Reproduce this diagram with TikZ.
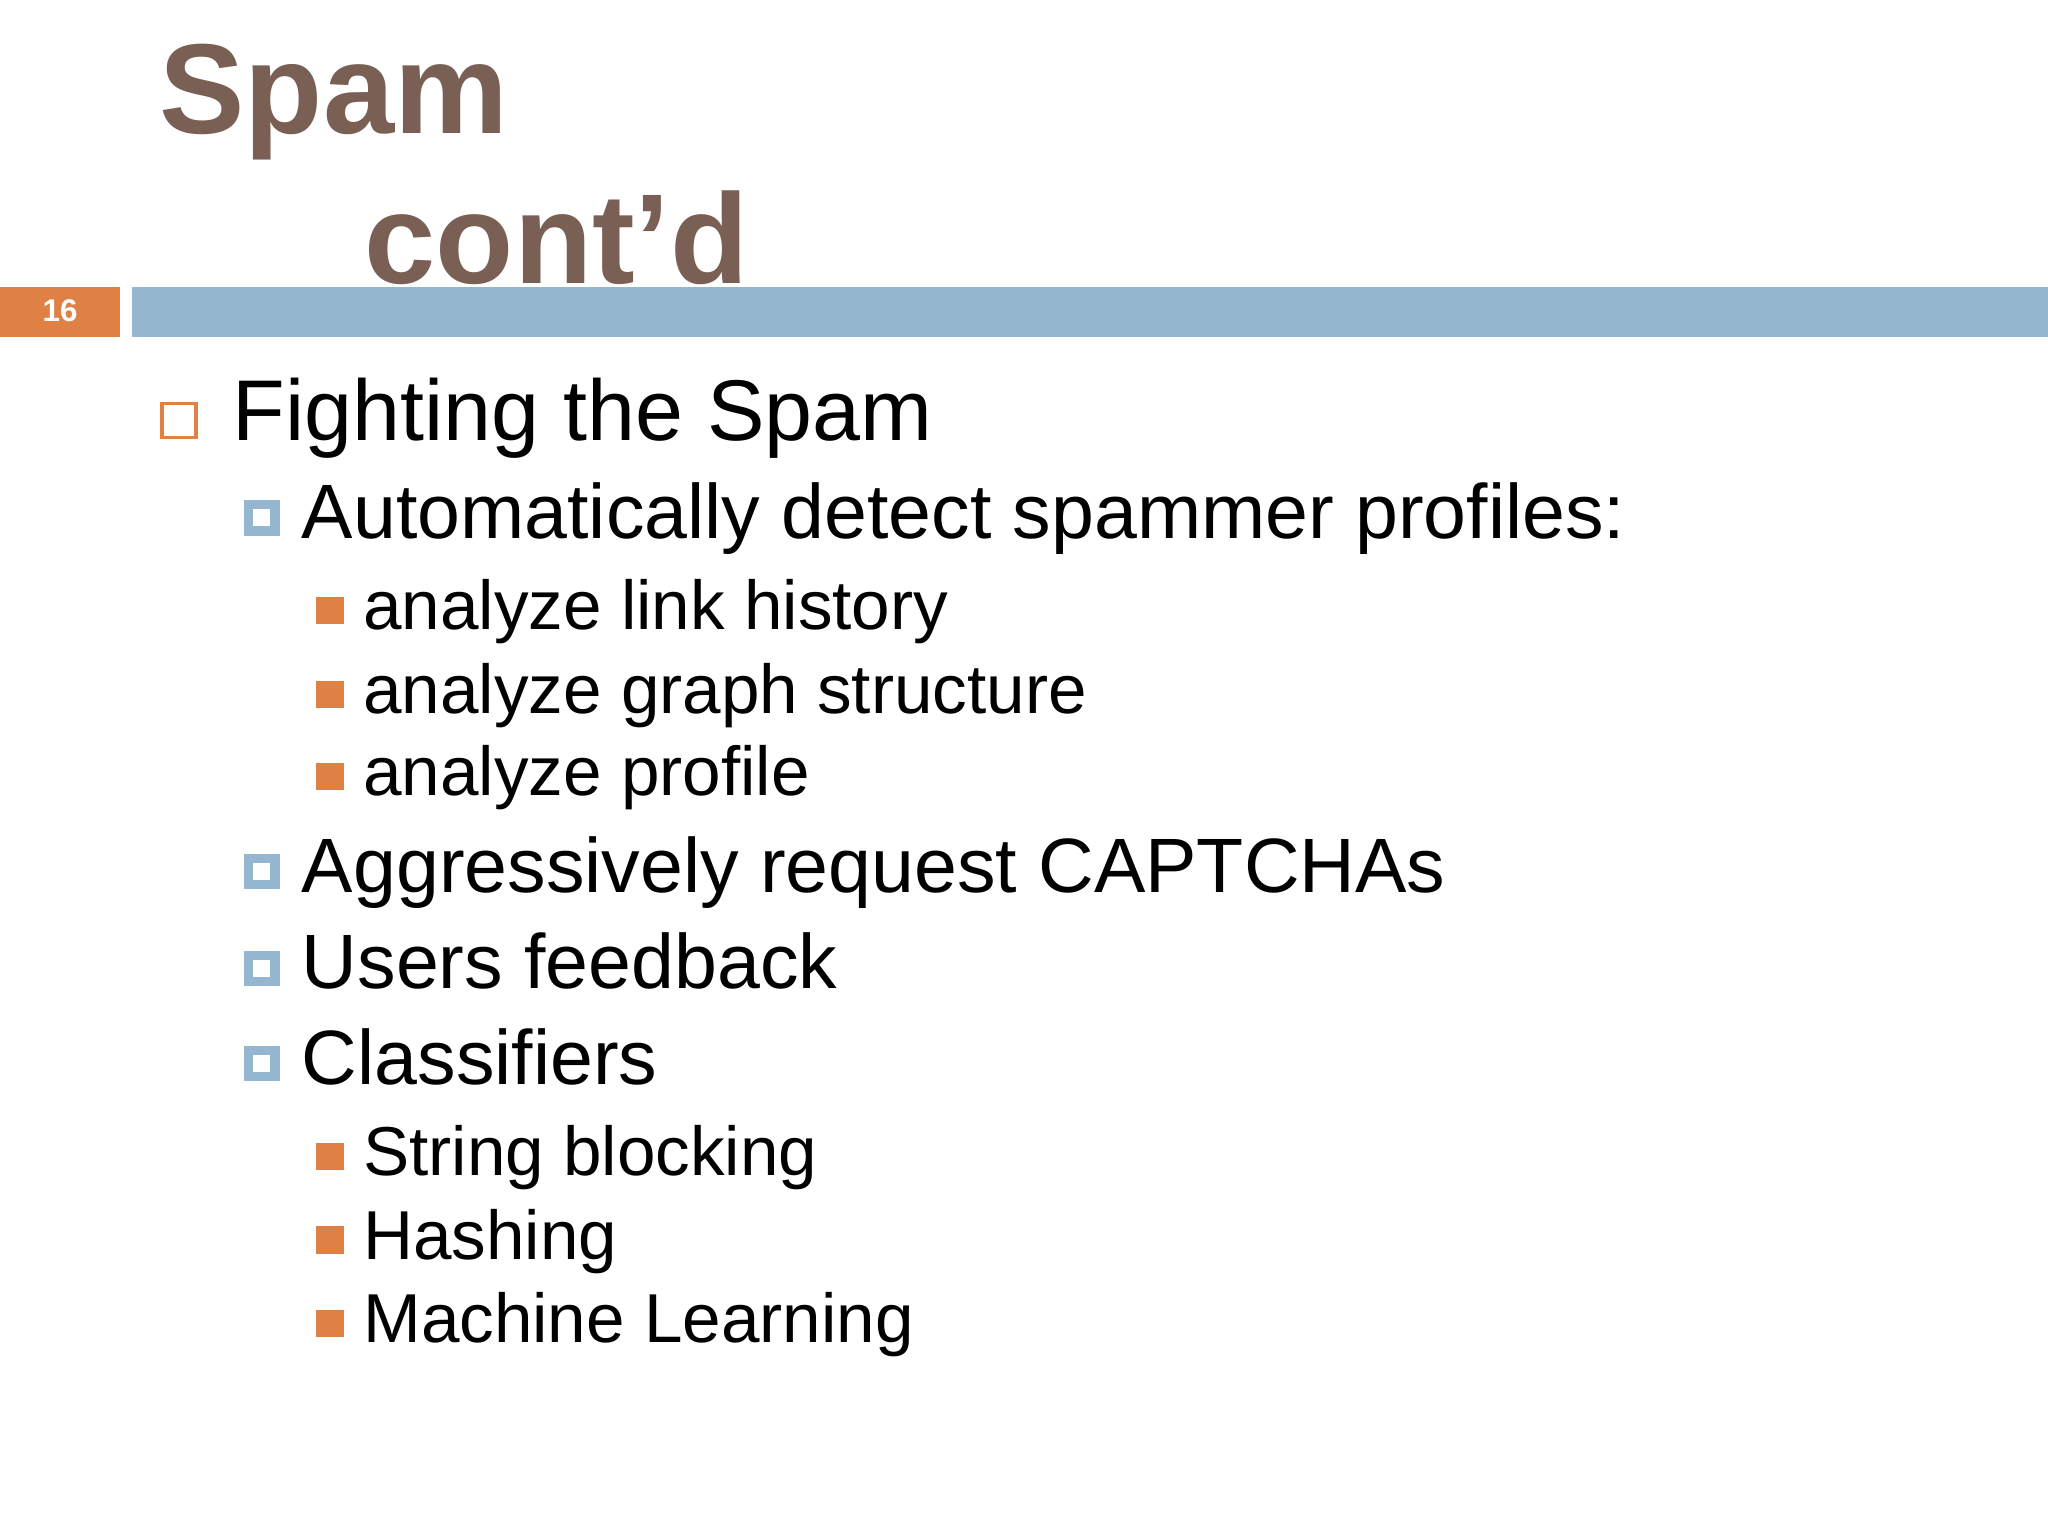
\documentclass[tikz,border=0pt]{standalone}
\usepackage{fontspec}
\setmainfont{Liberation Sans}
\definecolor{tbrown}{HTML}{7A5F55}
\definecolor{bbar}{HTML}{94B6CE}
\definecolor{orng}{HTML}{DF8144}
\tikzset{
  lone/.style={anchor=base west,inner sep=0pt,font=\fontsize{66}{78}\selectfont},
  ltwo/.style={anchor=base west,inner sep=0pt,font=\fontsize{59}{70}\selectfont},
  lthree/.style={anchor=base west,inner sep=0pt,font=\fontsize{53}{64}\selectfont},
  ttl/.style={anchor=base west,inner sep=0pt,text=tbrown,font=\fontsize{98}{110}\selectfont\bfseries},
}
\newcommand{\bone}[1]{\draw[orng,line width=2.5pt] (124,#1-28) rectangle (150,#1-2);}
\newcommand{\btwo}[1]{\fill[bbar] (187,#1-29) rectangle (214,#1-2); \fill[white] (194,#1-22) rectangle (207,#1-9);}
\newcommand{\bthree}[1]{\fill[orng] (242,#1-25) rectangle (263,#1-4);}
\begin{document}
\begin{tikzpicture}[x=1pt,y=-1pt]
\useasboundingbox (0,0) rectangle (1568,1176);
\fill[white] (0,0) rectangle (1568,1176);
\node[ttl] (t1) at (122,102) {Spam};
\node[ttl] (t2) at (279,217) {cont’d};
\fill[orng] (0,220) rectangle (92,258);
\fill[bbar] (101,220) rectangle (1568,258);
\node[text=white,font=\fontsize{24}{28}\selectfont\bfseries] (num) at (46,238) {16};
\bone{337}
\node[lone] (a) at (178,337) {Fighting the Spam};
\btwo{412}
\node[ltwo] (b) at (231,412) {Automatically detect spammer profiles:};
\bthree{482}
\node[lthree] (c) at (278,482) {analyze link history};
\bthree{546}
\node[lthree] (d) at (278,546) {analyze graph structure};
\bthree{609}
\node[lthree] (e) at (278,609) {analyze profile};
\btwo{683}
\node[ltwo] (f) at (231,683) {Aggressively request CAPTCHAs};
\btwo{757}
\node[ltwo] (g) at (231,757) {Users feedback};
\btwo{830}
\node[ltwo] (h) at (231,830) {Classifiers};
\bthree{900}
\node[lthree] (i) at (278,900) {String blocking};
\bthree{964}
\node[lthree] (j) at (278,964) {Hashing};
\bthree{1028}
\node[lthree] (k) at (278,1028) {Machine Learning};
\end{tikzpicture}
\end{document}
